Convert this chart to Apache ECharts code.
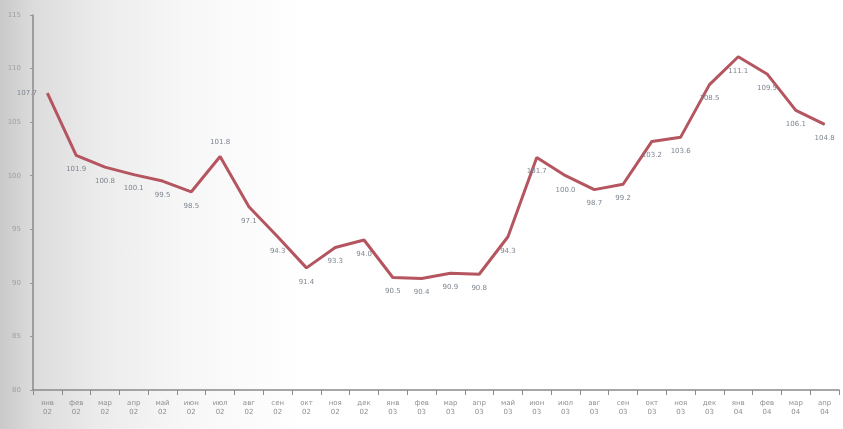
<!DOCTYPE html>
<html>
<head>
<meta charset="utf-8">
<script src="https://cdn.jsdelivr.net/npm/echarts@6/dist/echarts.min.js"></script>
<style>
  html, body { margin: 0; padding: 0; }
  body {
    width: 843px; height: 429px;
    background: linear-gradient(to right, #c9c9c9 0%, #dcdcdc 4%, #ececec 12%, #f7f7f7 22%, #ffffff 36%);
  }
  #chart { width: 843px; height: 429px; }
</style>
</head>
<body>
<div id="chart"></div>
<script>
  // месяцы и годы подписей оси X
  const months = ['янв', 'фев', 'мар', 'апр', 'май', 'июн', 'июл', 'авг', 'сен', 'окт', 'ноя', 'дек',
                  'янв', 'фев', 'мар', 'апр', 'май', 'июн', 'июл', 'авг', 'сен', 'окт', 'ноя', 'дек',
                  'янв', 'фев', 'мар', 'апр'];
  const years = ['02', '02', '02', '02', '02', '02', '02', '02', '02', '02', '02', '02',
                 '03', '03', '03', '03', '03', '03', '03', '03', '03', '03', '03', '03',
                 '04', '04', '04', '04'];
  const values = [107.7, 101.9, 100.8, 100.1, 99.5, 98.5, 101.8, 97.1, 94.3, 91.4,
                  93.3, 94.0, 90.5, 90.4, 90.9, 90.8, 94.3, 101.7, 100.0, 98.7,
                  99.2, 103.2, 103.6, 108.5, 111.1, 109.5, 106.1, 104.8];
  const yTicks = [80, 85, 90, 95, 100, 105, 110, 115];

  const categories = months.map((m, i) => m + '\n' + years[i]);

  // где подпись не снизу
  const labelPos = { 0: 'left', 6: 'top' };

  const chart = echarts.init(document.getElementById('chart'));

  const option = {
    backgroundColor: 'transparent',
    animation: false,
    grid: { left: 33, right: 4, top: 15, bottom: 39 },
    xAxis: {
      type: 'category',
      data: categories,
      boundaryGap: true,
      axisLine: { lineStyle: { color: '#8a8a8a', width: 1.5 } },
      axisTick: { show: true, length: 5, lineStyle: { color: '#8a8a8a' } },
      axisLabel: {
        interval: 0,
        color: '#8f8f8f',
        fontSize: 7,
        lineHeight: 9,
        margin: 9,
        fontFamily: 'DejaVu Sans'
      },
      splitLine: { show: false }
    },
    yAxis: {
      type: 'value',
      min: yTicks[0],
      max: yTicks[yTicks.length - 1],
      interval: yTicks[1] - yTicks[0],
      axisLine: { show: true, lineStyle: { color: '#8a8a8a', width: 1.5 } },
      axisTick: { show: true, length: 3, lineStyle: { color: '#9a9a9a' } },
      axisLabel: { color: '#a0a0a0', fontSize: 7, margin: 12, fontFamily: 'DejaVu Sans' },
      splitLine: { show: false }
    },
    series: [
      {
        type: 'line',
        data: values.map((v, i) => ({
          value: v,
          label: { position: labelPos[i] || 'bottom' }
        })),
        symbol: 'circle',
        symbolSize: 1,
        showSymbol: true,
        itemStyle: { color: '#b4555f' },
        lineStyle: { color: '#b4555f', width: 3 },
        label: {
          show: true,
          color: '#7d8590',
          fontSize: 7,
          distance: 10,
          fontFamily: 'DejaVu Sans',
          formatter: p => p.value.toFixed(1)
        }
      }
    ]
  };

  chart.setOption(option);
</script>
</body>
</html>
